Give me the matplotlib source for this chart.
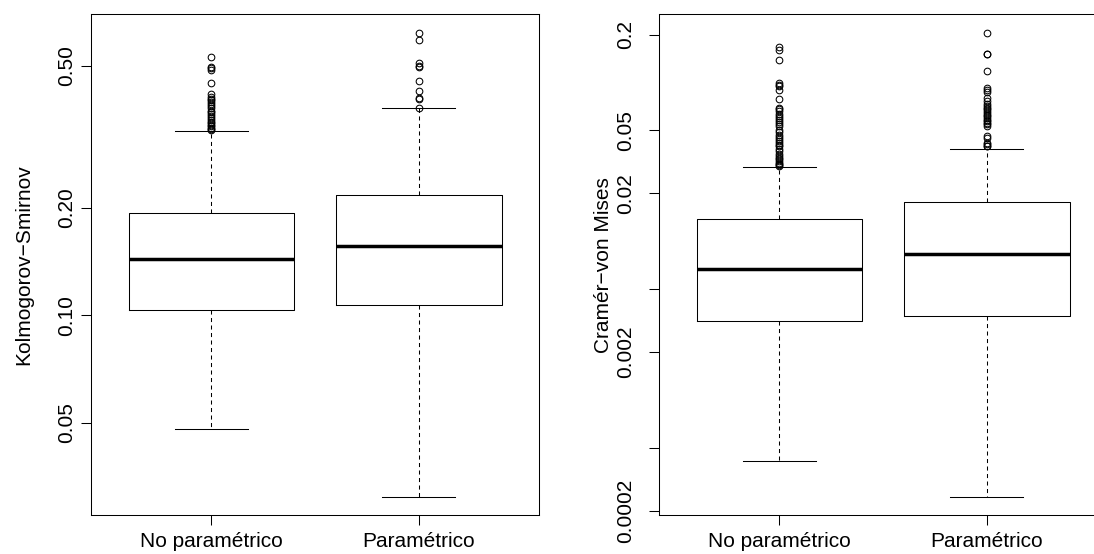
import numpy as np
import matplotlib
matplotlib.use('Agg')
import matplotlib.pyplot as plt
from matplotlib.ticker import FixedLocator, FixedFormatter, NullLocator

plt.rcParams['font.family'] = ['Liberation Sans', 'DejaVu Sans']

grupos = ['No paramétrico', 'Paramétrico']

# Kolmogorov-Smirnov
ks_q1 = [0.1038, 0.1071]
ks_med = [0.1437, 0.1564]
ks_q3 = [0.1934, 0.2173]
ks_whislo = [0.0481, 0.0310]
ks_whishi = [0.329, 0.380]
ks_out_np = [0.530, 0.495, 0.492, 0.488, 0.447, 0.417, 0.410, 0.405, 0.401,
             0.396, 0.390, 0.385, 0.380, 0.375, 0.371, 0.366, 0.362, 0.357,
             0.353, 0.349, 0.345, 0.342, 0.339, 0.336, 0.333, 0.331]
ks_out_p = [0.619, 0.590, 0.508, 0.499, 0.495, 0.453, 0.426, 0.406, 0.403, 0.382]

# Cramér-von Mises
cvm_q1 = [0.00314, 0.003375]
cvm_med = [0.00670, 0.00835]
cvm_q3 = [0.01387, 0.01758]
cvm_whislo = [0.000415, 0.000246]
cvm_whishi = [0.0295, 0.0383]
cvm_out_np = [0.1664, 0.1592, 0.1393, 0.0993, 0.0960, 0.0945, 0.0901, 0.0791,
              0.0691, 0.0675, 0.0658, 0.0635, 0.0612, 0.0595, 0.0583, 0.0560,
              0.0545, 0.0529, 0.0500, 0.0485, 0.0469, 0.0450, 0.0437, 0.0425,
              0.0416, 0.0405, 0.0396, 0.0380, 0.0369, 0.0355, 0.0343, 0.0335,
              0.0327, 0.0318, 0.0312, 0.0305, 0.0300, 0.0297]
cvm_out_p = [0.205, 0.1511, 0.1500, 0.1187, 0.0924, 0.0901, 0.0870, 0.0799,
             0.0761, 0.0735, 0.0708, 0.0690, 0.0675, 0.0660, 0.0643, 0.0625,
             0.0612, 0.0595, 0.0583, 0.0570, 0.0556, 0.0543, 0.0530, 0.0458,
             0.0448, 0.0416, 0.0408, 0.0400, 0.0395]

ks_ticks = [0.05, 0.10, 0.20, 0.50]
ks_ticklabels = ['0.05', '0.10', '0.20', '0.50']
cvm_ticks = [0.0002, 0.0005, 0.002, 0.005, 0.02, 0.05, 0.2]
cvm_ticklabels = ['0.0002', '', '0.002', '', '0.02', '0.05', '0.2']


def armar_stats(q1, med, q3, lo, hi, outs):
    return [dict(q1=q1[i], med=med[i], q3=q3[i], whislo=lo[i], whishi=hi[i],
                 fliers=np.array(outs[i])) for i in range(len(q1))]


def dibujar(ax, stats, ticks, ticklabels, ypad):
    lw = 0.75
    ax.bxp(stats, positions=[1, 2], widths=0.8, capwidths=0.35,
           boxprops=dict(color='black', lw=lw),
           whiskerprops=dict(color='black', lw=lw, linestyle=(0, (3.9, 3.3))),
           capprops=dict(color='black', lw=lw),
           medianprops=dict(color='black', lw=2.5, solid_capstyle='butt'),
           flierprops=dict(marker='o', markerfacecolor='none',
                           markeredgecolor='black', markersize=4.8,
                           markeredgewidth=0.75),
           manage_ticks=False)
    ax.set_yscale('log')
    # rango de datos con 4% de margen como en R
    vals = [s['whislo'] for s in stats] + [s['whishi'] for s in stats]
    for s in stats:
        vals += list(s['fliers'])
    lo, hi = np.log10(min(vals)), np.log10(max(vals))
    ext = (hi - lo) * 0.04
    ax.set_ylim(10 ** (lo - ext), 10 ** (hi + ext))
    ax.set_xlim(0.42, 2.58)
    ax.yaxis.set_major_locator(FixedLocator(ticks))
    ax.yaxis.set_major_formatter(FixedFormatter(ticklabels))
    ax.yaxis.set_minor_locator(NullLocator())
    ax.set_xticks([1, 2], grupos)
    ax.tick_params(axis='both', direction='out', length=7.2, width=0.75,
                   labelsize=15)
    ax.tick_params(axis='x', pad=5)
    ax.tick_params(axis='y', pad=ypad)
    for lab in ax.get_yticklabels():
        lab.set_rotation(90)
        lab.set_va('center')
    for sp in ax.spines.values():
        sp.set_linewidth(0.75)


W, H = 1094, 554
fig = plt.figure(figsize=(W / 100, H / 100), dpi=100)
ax1 = fig.add_axes([91.3 / W, (H - 515.3) / H, 447.6 / W, 501 / H])
ax2 = fig.add_axes([659.3 / W, (H - 515.3) / H, 447.6 / W, 501 / H])

dibujar(ax1, armar_stats(ks_q1, ks_med, ks_q3, ks_whislo, ks_whishi,
                         [ks_out_np, ks_out_p]), ks_ticks, ks_ticklabels, 3.7)
dibujar(ax2, armar_stats(cvm_q1, cvm_med, cvm_q3, cvm_whislo, cvm_whishi,
                         [cvm_out_np, cvm_out_p]), cvm_ticks, cvm_ticklabels, 9.9)

fig.text(23.3 / W, 1 - 264.8 / H, 'Kolmogorov\u2212Smirnov', rotation=90,
         ha='center', va='center', fontsize=15)
fig.text(603.3 / W, 1 - 264.8 / H, 'Cram\u00e9r\u2212von Mises', rotation=90,
         ha='center', va='center', fontsize=15)

fig.savefig('out.png', dpi=100)
